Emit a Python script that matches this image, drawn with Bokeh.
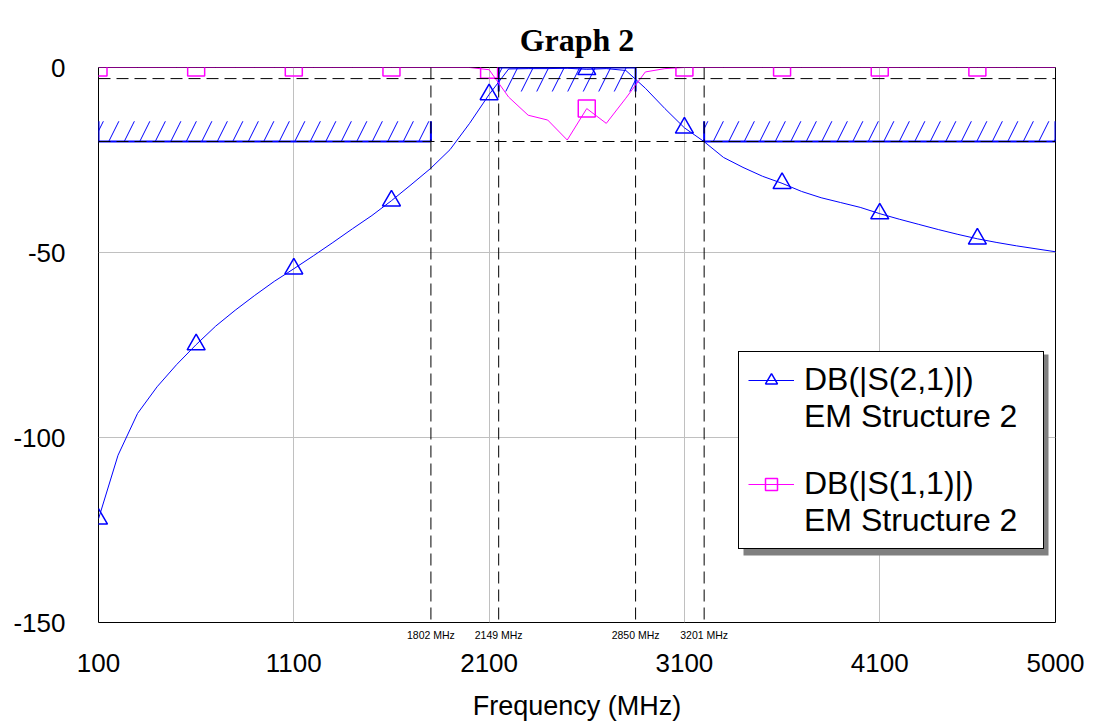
from bokeh.plotting import figure
from bokeh.models import (Range1d, FixedTicker, LinearAxis, Span, Legend, LegendItem,
                          BoxAnnotation, Grid, ColumnDataSource)
from bokeh.embed import file_html
from bokeh.resources import INLINE

# ---------------- data ----------------
freq_mhz = [100, 200, 300, 400, 500, 600, 700, 800, 900, 1000,
            1100, 1200, 1300, 1400, 1500, 1600, 1700, 1800, 1900, 2000,
            2100, 2200, 2300, 2400, 2500, 2600, 2700, 2800, 2900, 3000,
            3100, 3200, 3300, 3400, 3500, 3600, 3700, 3800, 3900, 4000,
            4100, 4200, 4300, 4400, 4500, 4600, 4700, 4800, 4900, 5000]

s21_db = [-122.0, -104.8, -93.5, -86.3, -80.3, -74.9, -69.9, -65.6, -61.6, -57.8,
          -54.4, -50.9, -47.3, -43.6, -40.0, -36.0, -31.7, -27.3, -22.2, -15.1,
          -7.3, -0.4, -0.3, -0.3, -0.2, -0.5, -0.3, -0.8, -5.6, -11.1,
          -16.3, -20.0, -24.3, -27.0, -29.4, -31.3, -33.5, -35.2, -36.5, -37.8,
          -39.5, -41.0, -42.4, -43.8, -45.1, -46.3, -47.3, -48.2, -49.0, -49.8]

s11_db = [0.0, 0.0, 0.0, 0.0, 0.0, 0.0, 0.0, 0.0, 0.0, 0.0,
          0.0, 0.0, 0.0, 0.0, 0.0, 0.0, 0.0, 0.0, 0.0, 0.0,
          -0.6, -8.0, -12.9, -14.2, -19.6, -11.1, -15.1, -8.3, -1.2, -0.3,
          0.0, 0.0, 0.0, 0.0, 0.0, 0.0, 0.0, 0.0, 0.0, 0.0,
          0.0, 0.0, 0.0, 0.0, 0.0, 0.0, 0.0, 0.0, 0.0, 0.0]

marker_step = 5                      # a symbol every 500 MHz
marker_freqs = [1802, 2149, 2850, 3201]
marker_labels = ["1802 MHz", "2149 MHz", "2850 MHz", "3201 MHz"]
limit_levels = [-3, -20]

# specification (goal) regions
spec_start = [100, 2149, 3201]
spec_stop = [1802, 2850, 5000]
spec_level = [-20, 0, -20]
spec_band_edge = [-14.5, -6.5, -14.5]

x_ticks = [100, 1100, 2100, 3100, 4100, 5000]
x_grid = [1100, 2100, 3100, 4100]
y_ticks = [-150, -100, -50, 0]
y_tick_labels = ["-150", "-100", "-50", "0"]

series_names = ["DB(|S(2,1)|)", "DB(|S(1,1)|)"]
series_source = "EM Structure 2"

# ---------------- figure ----------------
X0, X1, Y0, Y1 = 100, 5000, -150, 0
FW, FH = 957, 555
ML, MR, MT, MB = 98, 41, 67, 105

p = figure(frame_width=FW, frame_height=FH,
           min_border_left=ML, min_border_right=MR, min_border_top=MT, min_border_bottom=MB,
           x_range=Range1d(X0, X1), y_range=Range1d(Y0, Y1),
           output_backend="svg", toolbar_location=None, x_axis_location=None,
           title="Graph 2")
p.background_fill_color = "white"
p.border_fill_color = "white"
p.outline_line_color = "black"
p.outline_line_width = 1
for g in p.xgrid:
    g.visible = False

p.title.text_font = "Liberation Serif"
p.title.text_font_style = "bold"
p.title.text_font_size = "32px"
p.title.align = "center"
p.title.text_color = "black"
p.title.standoff = 19

# y axis
ya = p.yaxis[0]
ya.ticker = FixedTicker(ticks=y_ticks)
ya.major_label_overrides = {t: s for t, s in zip(y_ticks, y_tick_labels)}
ya.major_label_text_font = "Liberation Sans"
ya.major_label_text_font_size = "26px"
ya.major_label_text_color = "black"
ya.major_tick_line_color = None
ya.minor_tick_line_color = None
ya.axis_line_color = None
ya.major_label_standoff = 27

p.ygrid[0].ticker = FixedTicker(ticks=[-100, -50])
p.ygrid[0].grid_line_color = "#c0c0c0"
p.ygrid[0].grid_line_width = 1

xg = Grid(dimension=0, ticker=FixedTicker(ticks=x_grid),
          grid_line_color="#c0c0c0", grid_line_width=1)
p.add_layout(xg)

# marker label axis (closest to frame)
mk_axis = LinearAxis(ticker=FixedTicker(ticks=marker_freqs),
                     major_label_overrides={f: t for f, t in zip(marker_freqs, marker_labels)})
mk_axis.major_label_text_font = "Liberation Sans"
mk_axis.major_label_text_font_size = "10.5px"
mk_axis.major_label_text_color = "black"
mk_axis.major_tick_line_color = None
mk_axis.minor_tick_line_color = None
mk_axis.axis_line_color = None
mk_axis.major_label_standoff = 0
p.add_layout(mk_axis, "below")

xa = LinearAxis(ticker=FixedTicker(ticks=x_ticks), axis_label="Frequency (MHz)")
xa.major_label_text_font = "Liberation Sans"
xa.major_label_text_font_size = "26px"
xa.major_label_text_color = "black"
xa.major_tick_line_color = None
xa.minor_tick_line_color = None
xa.axis_line_color = None
xa.major_label_standoff = 4
xa.axis_label_text_font = "Liberation Sans"
xa.axis_label_text_font_size = "27px"
xa.axis_label_text_font_style = "normal"
xa.axis_label_text_color = "black"
xa.axis_label_standoff = 16
p.add_layout(xa, "below")

# ---------------- spec regions ----------------
spec_src = ColumnDataSource(dict(x0=spec_start, x1=spec_stop, lvl=spec_level, edge=spec_band_edge))
p.quad(left="x0", right="x1", bottom="lvl", top="edge", source=spec_src,
       fill_alpha=0, line_color=None,
       hatch_pattern="/", hatch_color="#0000ff", hatch_scale=31, hatch_weight=1)
p.segment(x0="x0", y0="lvl", x1="x1", y1="lvl", source=spec_src, line_color="#0000ff", line_width=2)
p.segment(x0="x0", y0="lvl", x1="x0", y1="edge", source=spec_src, line_color="#0000ff", line_width=2)
p.segment(x0="x1", y0="lvl", x1="x1", y1="edge", source=spec_src, line_color="#0000ff", line_width=2)

# ---------------- traces ----------------
r21 = p.line(freq_mhz, s21_db, line_color="#0000ff", line_width=1)
m21 = p.scatter(freq_mhz[::marker_step], s21_db[::marker_step], marker="triangle", size=18,
                fill_color=None, line_color="#0000ff", line_width=1.5)
r11 = p.line(freq_mhz, s11_db, line_color="#ff00ff", line_width=1)
m11 = p.scatter(freq_mhz[::marker_step], s11_db[::marker_step], marker="square", size=17,
                fill_color=None, line_color="#ff00ff", line_width=1.5)

# dashed marker / limit lines
for f in marker_freqs:
    p.add_layout(Span(location=f, dimension="height", line_color="black",
                      line_dash="12 6", line_width=1))
for lv in limit_levels:
    p.add_layout(Span(location=lv, dimension="width", line_color="black",
                      line_dash="12 6", line_width=1))

# ---------------- legend ----------------
def px_to_x(px):
    return X0 + (px - ML) * (X1 - X0) / FW

def px_to_y(py):
    return Y1 - (py - MT) * (Y1 - Y0) / FH

# legend box in canvas px: 738..1042 x 349..549 ; shadow offset 5 px
shadow = BoxAnnotation(left=px_to_x(743), right=px_to_x(1048),
                       top=px_to_y(354), bottom=px_to_y(555),
                       fill_color="#808080", fill_alpha=1, line_color=None)
p.add_layout(shadow)

blank = p.line([], [], line_alpha=0)
items = [
    LegendItem(label=series_names[0], renderers=[r21, m21]),
    LegendItem(label=series_source, renderers=[blank]),
    LegendItem(label=" ", renderers=[blank]),
    LegendItem(label=series_names[1], renderers=[r11, m11]),
    LegendItem(label=series_source, renderers=[blank]),
]
legend = Legend(items=items, location=(640, 73))
legend.border_line_color = "black"
legend.border_line_width = 1
legend.border_line_alpha = 1
legend.background_fill_color = "white"
legend.background_fill_alpha = 1
legend.label_text_font = "Liberation Sans"
legend.label_text_font_size = "32px"
legend.label_text_color = "black"
legend.glyph_width = 46
legend.glyph_height = 30
legend.label_height = 30
legend.label_width = 230
legend.label_standoff = 10
legend.padding = 9
legend.spacing = 0
legend.margin = 0
p.add_layout(legend)

open("out.html", "w").write(file_html(p, INLINE))
